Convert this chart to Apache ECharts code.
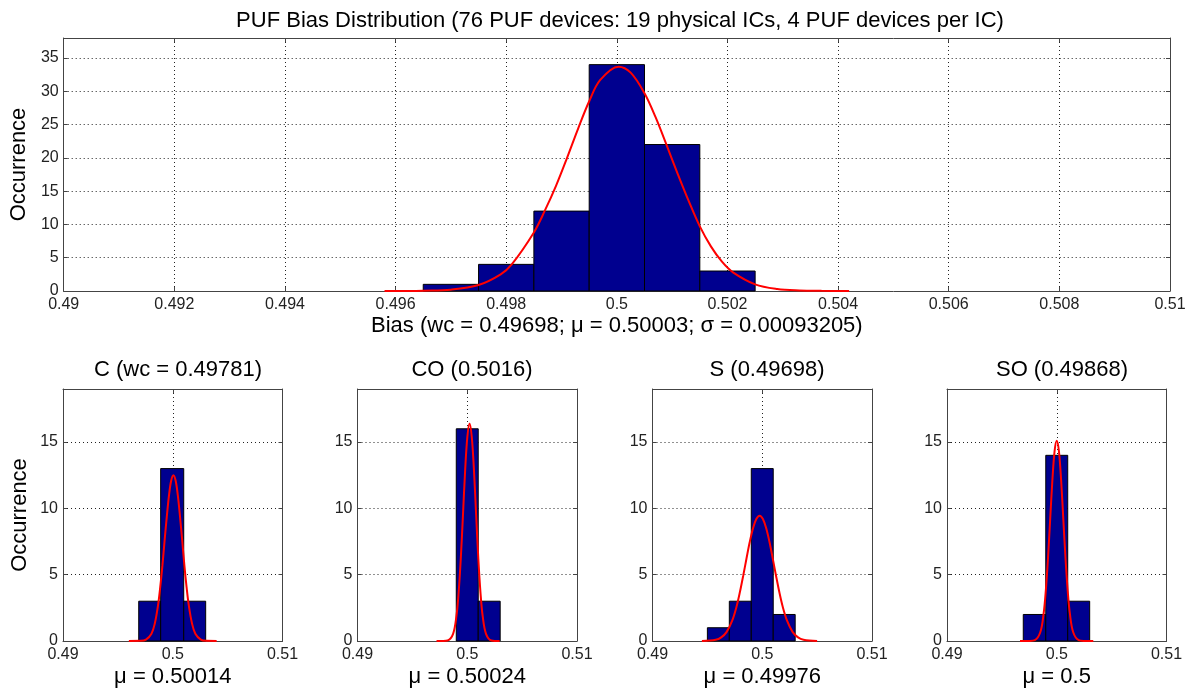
<!DOCTYPE html>
<html>
<head>
<meta charset="utf-8">
<script src="https://cdn.jsdelivr.net/npm/echarts@6/dist/echarts.min.js"></script>
<style>
html,body{margin:0;padding:0;background:#fff;}
#chart{width:1192px;height:694px;}
</style>
</head>
<body>
<div id="chart"></div>
<script>
// ---------------- DATA ----------------
const mainTitle = 'PUF Bias Distribution (76 PUF devices: 19 physical ICs, 4 PUF devices per IC)';
const mainXLabel = 'Bias (wc = 0.49698; \u03bc = 0.50003; \u03c3 = 0.00093205)';
const yLabel = 'Occurrence';

// top histogram: bin edges and counts
const topEdges = [0.4965, 0.4975, 0.4985, 0.4995, 0.5005, 0.5015, 0.5025];
const topCounts = [1, 4, 12, 34, 22, 3];
// top fitted curve
const topFitX = [0.4958, 0.4962, 0.4965, 0.4970, 0.4975, 0.4979, 0.4981, 0.4985, 0.4987, 0.4989, 0.4991, 0.4993, 0.4995, 0.4997, 0.50003, 0.50025, 0.5005, 0.5007, 0.5009, 0.5011, 0.5013, 0.5015, 0.5017, 0.5019, 0.5021, 0.5025, 0.5029, 0.5033, 0.5037, 0.5042];
const topFitY = [0, 0.01, 0.05, 0.2, 0.9, 2.5, 4.0, 8.8, 12.1, 15.8, 20.0, 24.4, 28.5, 31.7, 33.7, 32.8, 29.7, 26.1, 21.9, 17.6, 13.5, 9.7, 6.7, 4.4, 2.8, 1.0, 0.3, 0.08, 0.02, 0];
const topXTicks = [0.49, 0.492, 0.494, 0.496, 0.498, 0.5, 0.502, 0.504, 0.506, 0.508, 0.51];
const topYTicks = [0, 5, 10, 15, 20, 25, 30, 35];

// small panels
const subTitles = ['C (wc = 0.49781)', 'CO (0.5016)', 'S (0.49698)', 'SO (0.49868)'];
const subXLabels = ['\u03bc = 0.50014', '\u03bc = 0.50024', '\u03bc = 0.49976', '\u03bc = 0.5'];
const subXTicks = [0.49, 0.5, 0.51];
const subYTicks = [0, 5, 10, 15];

const cEdges = [0.4969, 0.4989, 0.5010, 0.5030];
const cCounts = [3, 13, 3];
const cFitX = [0.4960, 0.49706, 0.49756, 0.49806, 0.49836, 0.49866, 0.49886, 0.49906, 0.49926, 0.49946, 0.49966, 0.49986, 0.50006, 0.50026, 0.50046, 0.50066, 0.50086, 0.50106, 0.50126, 0.50146, 0.50176, 0.50206, 0.50256, 0.50306, 0.5040];
const cFitY = [0, 0.01, 0.1, 0.55, 1.3, 2.7, 4.06, 5.7, 7.6, 9.4, 11.0, 12.1, 12.5, 12.1, 11.0, 9.4, 7.6, 5.7, 4.06, 2.7, 1.3, 0.55, 0.1, 0.01, 0];

const coEdges = [0.4990, 0.5010, 0.5030];
const coCounts = [16, 3];
const coFitX = [0.4972, 0.49771, 0.49821, 0.49871, 0.49901, 0.49921, 0.49941, 0.49961, 0.49981, 0.50001, 0.50021, 0.50041, 0.50061, 0.50081, 0.50101, 0.50121, 0.50141, 0.50171, 0.50221, 0.50295];
const coFitY = [0, 0.005, 0.04, 0.54, 1.85, 3.6, 6.2, 9.5, 12.9, 15.4, 16.4, 15.4, 12.9, 9.5, 6.2, 3.6, 1.85, 0.54, 0.04, 0];

const sEdges = [0.4950, 0.4970, 0.4990, 0.5010, 0.5030];
const sCounts = [1, 3, 13, 2];
const sFitX = [0.4945, 0.49576, 0.49626, 0.49676, 0.49726, 0.49766, 0.49796, 0.49826, 0.49856, 0.49886, 0.49916, 0.49946, 0.49976, 0.50006, 0.50036, 0.50066, 0.50096, 0.50126, 0.50156, 0.50186, 0.50226, 0.50276, 0.50326, 0.50376, 0.5050];
const sFitY = [0, 0.09, 0.27, 0.69, 1.53, 2.6, 3.67, 4.9, 6.2, 7.46, 8.5, 9.2, 9.45, 9.2, 8.5, 7.46, 6.2, 4.9, 3.67, 2.6, 1.53, 0.69, 0.27, 0.09, 0];

const soEdges = [0.49695, 0.4990, 0.5010, 0.5030];
const soCounts = [2, 14, 3];
const soFitX = [0.49665, 0.4975, 0.4980, 0.4985, 0.4988, 0.4990, 0.4992, 0.4994, 0.4996, 0.4998, 0.5000, 0.5002, 0.5004, 0.5006, 0.5008, 0.5010, 0.5012, 0.5015, 0.5020, 0.5025, 0.50333];
const soFitY = [0, 0.005, 0.06, 0.66, 2.04, 3.77, 6.2, 9.16, 12.1, 14.3, 15.1, 14.3, 12.1, 9.16, 6.2, 3.77, 2.04, 0.66, 0.06, 0.005, 0];

// ---------------- CHART ----------------
const FONT = '"Liberation Sans", Arial, Helvetica, sans-serif';
const AX = '#444';
const GRIDC = '#222';
const BIG = 22;
const TICK = 16;

const panels = [
  {grid: {left: 63, top: 38, width: 1107, height: 253}, xmin: 0.49, xmax: 0.51, xint: 0.002, ymax: 38, edges: topEdges, counts: topCounts, fx: topFitX, fy: topFitY, xt: topXTicks, yt: topYTicks, xname: mainXLabel, yname: yLabel},
  {grid: {left: 63, top: 389, width: 219.5, height: 252}, xmin: 0.49, xmax: 0.51, xint: 0.01, ymax: 19, edges: cEdges, counts: cCounts, fx: cFitX, fy: cFitY, xt: subXTicks, yt: subYTicks, xname: subXLabels[0], yname: yLabel},
  {grid: {left: 357.5, top: 389, width: 219.5, height: 252}, xmin: 0.49, xmax: 0.51, xint: 0.01, ymax: 19, edges: coEdges, counts: coCounts, fx: coFitX, fy: coFitY, xt: subXTicks, yt: subYTicks, xname: subXLabels[1], yname: ''},
  {grid: {left: 652.5, top: 389, width: 219.5, height: 252}, xmin: 0.49, xmax: 0.51, xint: 0.01, ymax: 19, edges: sEdges, counts: sCounts, fx: sFitX, fy: sFitY, xt: subXTicks, yt: subYTicks, xname: subXLabels[2], yname: ''},
  {grid: {left: 947, top: 389, width: 219.5, height: 252}, xmin: 0.49, xmax: 0.51, xint: 0.01, ymax: 19, edges: soEdges, counts: soCounts, fx: soFitX, fy: soFitY, xt: subXTicks, yt: subYTicks, xname: subXLabels[3], yname: ''}
];

function isTick(list, v) {
  return list.some(t => Math.abs(t - v) < 1e-9);
}

const grids = [], xAxes = [], yAxes = [], series = [];
panels.forEach((p, i) => {
  grids.push(p.grid);
  const splitStyle = {show: true, lineStyle: {color: GRIDC, width: 1, type: [1, 3]}};
  xAxes.push({
    type: 'value', gridIndex: i, min: p.xmin, max: p.xmax, interval: p.xint,
    axisLine: {show: true, onZero: false, lineStyle: {color: AX, width: 1}},
    axisTick: {show: true, inside: true, length: 4, lineStyle: {color: AX}},
    axisLabel: {show: true, margin: 6, color: '#222', fontSize: TICK, fontFamily: FONT,
      formatter: v => isTick(p.xt, v) ? String(+v.toFixed(4)) : ''},
    splitLine: splitStyle,
    name: p.xname, nameLocation: 'middle', nameGap: i === 0 ? 24 : 25,
    nameTextStyle: {color: '#000', fontSize: BIG, fontFamily: FONT}
  });
  xAxes.push({
    type: 'value', gridIndex: i, position: 'top', min: p.xmin, max: p.xmax, interval: p.xint,
    axisLine: {show: true, onZero: false, lineStyle: {color: AX, width: 1}},
    axisTick: {show: true, inside: true, length: 4, lineStyle: {color: AX}},
    axisLabel: {show: false}, splitLine: {show: false}
  });
  yAxes.push({
    type: 'value', gridIndex: i, min: 0, max: p.ymax, interval: 5,
    axisLine: {show: true, onZero: false, lineStyle: {color: AX, width: 1}},
    axisTick: {show: true, inside: true, length: 4, lineStyle: {color: AX}},
    axisLabel: {show: true, margin: 5, color: '#222', fontSize: TICK, fontFamily: FONT,
      formatter: v => isTick(p.yt, v) ? String(v) : ''},
    splitLine: splitStyle,
    name: p.yname, nameLocation: 'middle', nameGap: 32,
    nameTextStyle: {color: '#000', fontSize: BIG, fontFamily: FONT}
  });
  yAxes.push({
    type: 'value', gridIndex: i, position: 'right', min: 0, max: p.ymax, interval: 5,
    axisLine: {show: true, onZero: false, lineStyle: {color: AX, width: 1}},
    axisTick: {show: true, inside: true, length: 4, lineStyle: {color: AX}},
    axisLabel: {show: false}, splitLine: {show: false}
  });
  const histData = p.counts.map((c, k) => [p.edges[k], p.edges[k + 1], c]);
  series.push({
    type: 'custom', xAxisIndex: 2 * i, yAxisIndex: 2 * i, data: histData,
    encode: {x: [0, 1], y: 2}, z: 2, silent: true,
    renderItem: (params, api) => {
      const a = api.coord([api.value(0), 0]);
      const b = api.coord([api.value(1), api.value(2)]);
      return {type: 'rect', shape: {x: a[0], y: b[1], width: b[0] - a[0], height: a[1] - b[1]},
        style: {fill: '#00008f', stroke: '#000', lineWidth: 1}};
    }
  });
  series.push({
    type: 'line', xAxisIndex: 2 * i, yAxisIndex: 2 * i, z: 3, silent: true,
    data: p.fx.map((x, k) => [x, p.fy[k]]),
    smooth: 0.35, showSymbol: false, symbol: 'none',
    lineStyle: {color: '#ff0000', width: 2}
  });
});

const titles = [{text: mainTitle, left: 615, top: 5, textAlign: 'center',
  textStyle: {color: '#000', fontSize: BIG, fontWeight: 'normal', fontFamily: FONT}}];
const subCenters = [173, 467, 762, 1057];
subTitles.forEach((t, i) => titles.push({text: t, left: subCenters[i], top: 354, textAlign: 'center',
  textStyle: {color: '#000', fontSize: BIG, fontWeight: 'normal', fontFamily: FONT}}));

const chart = echarts.init(document.getElementById('chart'), null, {renderer: 'canvas'});
chart.setOption({
  animation: false,
  backgroundColor: '#fff',
  title: titles,
  grid: grids,
  xAxis: xAxes,
  yAxis: yAxes,
  series: series
});
</script>
</body>
</html>
